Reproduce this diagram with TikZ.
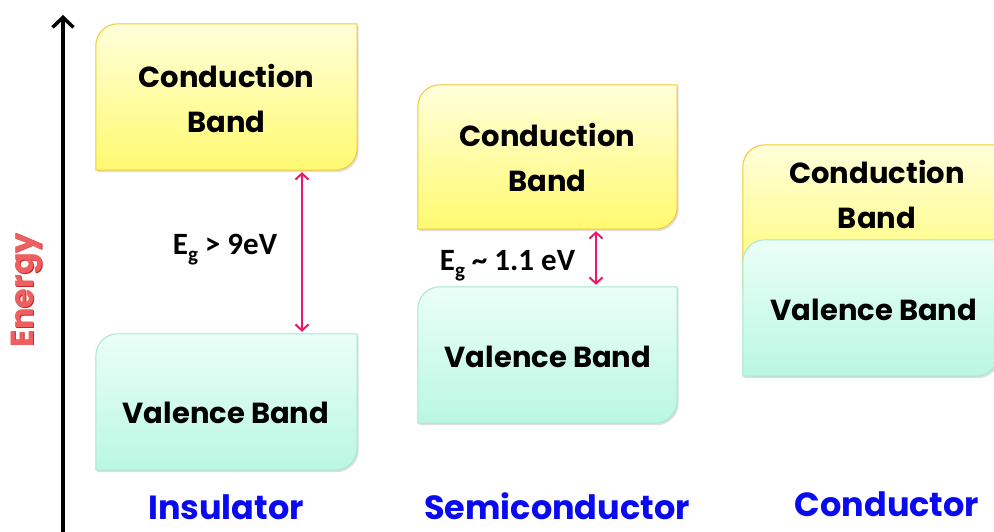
\documentclass[tikz,border=0pt]{standalone}
\usepackage{fontspec}
\newfontfamily\bandfont{Poppins}
\newfontfamily\gapfont{Carlito}
\usetikzlibrary{calc,arrows.meta,shadows}

\definecolor{cbtop}{RGB}{255,255,218}
\definecolor{cbbot}{RGB}{255,250,112}
\definecolor{cbline}{RGB}{242,200,50}
\definecolor{vbtop}{RGB}{234,255,247}
\definecolor{vbbot}{RGB}{186,247,226}
\definecolor{vbline}{RGB}{165,230,210}
\definecolor{gapcol}{RGB}{236,22,106}
\definecolor{energycol}{RGB}{238,96,96}
\definecolor{energydark}{RGB}{196,40,44}
\definecolor{kindcol}{RGB}{10,10,240}

\newcommand\bandradius{22pt}
% outline with rounded top-left and bottom-right corners, taken from a node's anchors
\newcommand\bandoutline[2]{%
  \path[#2] (#1.north east) -- ($(#1.north west)+(\bandradius,0)$)
    arc[start angle=90,end angle=180,radius=\bandradius] -- (#1.south west)
    -- ($(#1.south east)-(\bandradius,0)$)
    arc[start angle=270,end angle=360,radius=\bandradius] -- cycle;}

\tikzset{
  bandbox/.style={rectangle, inner sep=0pt, draw=none},
  condband/.style={draw=cbline, line width=1pt, top color=cbtop, bottom color=cbbot,
    drop shadow={shadow xshift=1.5pt, shadow yshift=-2pt, opacity=0.25}},
  valband/.style={draw=vbline, line width=1pt, top color=vbtop, bottom color=vbbot,
    drop shadow={shadow xshift=1.5pt, shadow yshift=-2pt, opacity=0.25}},
  bandtext/.style={font={\bandfont\bfseries\fontsize{29}{45}\selectfont}, align=center, inner sep=0pt},
  gaptext/.style={font={\gapfont\bfseries\fontsize{31}{33}\selectfont}, inner sep=0pt},
  kindtext/.style={font={\bandfont\bfseries\fontsize{33.5}{38}\selectfont}, text=kindcol,
    inner sep=0pt, anchor=base},
  energytext/.style={rotate=90, font={\bandfont\bfseries\fontsize{32}{32}\selectfont}, inner sep=0pt},
  gaparrow/.style={draw=gapcol, line width=2pt, shorten <=2pt, shorten >=2pt,
    {Straight Barb[length=6pt,width=13pt]}-{Straight Barb[length=6pt,width=13pt]}},
  axisline/.style={line width=3.5pt, -{Straight Barb[length=10pt,width=21pt]}},
}

\begin{document}
\begin{tikzpicture}[x=1pt,y=1pt]
\useasboundingbox (0,0) rectangle (994,531);
\clip (0,0) rectangle (994,531);

% energy axis
\coordinate (ax0) at (63,-5);
\coordinate (ax1) at (63,516);
\draw[axisline] (ax0) -- (ax1);
\node[energytext, text=energydark] (energyshade) at (27.9,240.2) {Energy};
\node[energytext, text=energycol] (energy) at (27,241) {Energy};

% band boxes
\node[bandbox, minimum width=261pt, minimum height=146pt] (icb) at (226.5,434) {};
\node[bandbox, minimum width=261pt, minimum height=136pt] (ivb) at (226.5,129) {};
\node[bandbox, minimum width=259pt, minimum height=144pt] (scb) at (547.5,374) {};
\node[bandbox, minimum width=259pt, minimum height=136pt] (svb) at (547.5,176) {};
\node[bandbox, minimum width=255pt, minimum height=145pt] (ccb) at (870.5,313.5) {};
\node[bandbox, minimum width=255pt, minimum height=136pt] (cvb) at (870.5,223) {};

\bandoutline{icb}{condband}
\bandoutline{ivb}{valband}
\bandoutline{scb}{condband}
\bandoutline{svb}{valband}
\bandoutline{ccb}{condband}
\bandoutline{cvb}{valband}

% band names
\node[bandtext] (icbt) at (226.5,432.5) {Conduction\\Band};
\node[bandtext] (ivbt) at (226,118) {Valence Band};
\node[bandtext] (scbt) at (547.5,373) {Conduction\\Band};
\node[bandtext] (svbt) at (548,174) {Valence Band};
\node[bandtext] (ccbt) at (877,336.5) {Conduction\\Band};
\node[bandtext] (cvbt) at (874,221) {Valence Band};

% band gaps
\coordinate (ix) at (302,0);
\coordinate (sx) at (596,0);
\draw[gaparrow] (icb.south -| ix) -- (ivb.north -| ix);
\draw[gaparrow] (scb.south -| sx) -- (svb.north -| sx);
\node[gaptext] (igap) at (225,281)
  {E\raisebox{-7pt}{\fontsize{21}{21}\selectfont g} > 9eV};
\node[gaptext] (sgap) at (507.5,265)
  {E\raisebox{-7pt}{\fontsize{21}{21}\selectfont g} \textasciitilde\ 1.1 eV};

% material names
\node[kindtext] (ins) at (226,12) {Insulator};
\node[kindtext] (semi) at (557,12) {Semiconductor};
\node[kindtext] (cond) at (887,15) {Conductor};
\end{tikzpicture}
\end{document}
